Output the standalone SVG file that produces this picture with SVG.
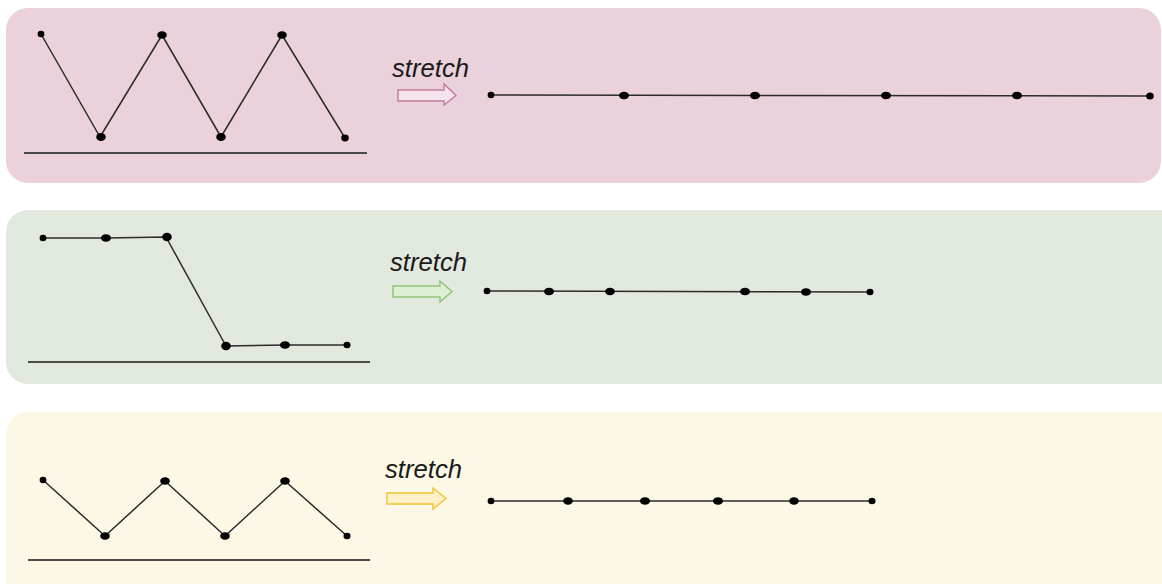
<svg xmlns="http://www.w3.org/2000/svg" width="1162" height="584" viewBox="0 0 1162 584">
  <style>
    .panel-pink { fill: #ead1dc; }
    .panel-green { fill: #e1e8dd; }
    .panel-yellow { fill: #fdf7e5; }
    .wire { fill: none; stroke: #2b2b2b; stroke-width: 1.5; stroke-linejoin: round; }
    .ground { stroke: #4a4a4a; stroke-width: 2.2; }
    .dot { fill: #000; }
    .label { font-family: "Liberation Sans", Arial, sans-serif; font-style: italic; font-size: 25px; fill: #1a1a1a; }
    .arrow-pink { fill: #f4e3ea; stroke: #c27ba0; stroke-width: 1.4; }
    .arrow-green { fill: #dcefd5; stroke: #8fc47a; stroke-width: 1.4; }
    .arrow-yellow { fill: #fff0c9; stroke: #f1c232; stroke-width: 1.4; }
  </style>
  <rect width="1162" height="584" fill="#ffffff"/>

  <!-- Row 1: zigzag -->
  <g id="row-zigzag-tall">
    <rect class="panel-pink" x="6" y="8" width="1155" height="175" rx="22"/>
    <line class="ground" x1="24" y1="153" x2="367" y2="153"/>
    <polyline class="wire" points="41,34 100,137 162,35 221,137 282,35 345,138"/>
    <ellipse class="dot" cx="41" cy="34" rx="3.4" ry="3.2"/>
    <ellipse class="dot" cx="101" cy="137" rx="4.8" ry="4"/>
    <ellipse class="dot" cx="162" cy="35" rx="4.8" ry="3.8"/>
    <ellipse class="dot" cx="221" cy="137" rx="4.8" ry="4"/>
    <ellipse class="dot" cx="282" cy="35" rx="4.8" ry="3.8"/>
    <ellipse class="dot" cx="345" cy="138" rx="3.8" ry="3.4"/>
    <text class="label" x="392" y="77" textLength="77" lengthAdjust="spacingAndGlyphs">stretch</text>
    <polygon class="arrow-pink" points="398,90 444,90 444,84 456,95.5 444,105 444,101 398,101"/>
    <line class="wire" x1="491" y1="95" x2="1150" y2="96"/>
    <ellipse class="dot" cx="491" cy="95" rx="3.4" ry="3.2"/>
    <ellipse class="dot" cx="624" cy="95.5" rx="5" ry="3.8"/>
    <ellipse class="dot" cx="755" cy="95.5" rx="5" ry="3.8"/>
    <ellipse class="dot" cx="886" cy="95.5" rx="5" ry="3.8"/>
    <ellipse class="dot" cx="1017" cy="95.5" rx="5" ry="3.8"/>
    <ellipse class="dot" cx="1150" cy="96" rx="3.8" ry="3.5"/>
  </g>

  <!-- Row 2: step -->
  <g id="row-step">
    <rect class="panel-green" x="6" y="210" width="1180" height="174" rx="22"/>
    <line class="ground" x1="28" y1="362" x2="370" y2="362"/>
    <polyline class="wire" points="43,238 106,238 166,237 226,346 285,345 347,345"/>
    <ellipse class="dot" cx="43" cy="238" rx="3.4" ry="3.2"/>
    <ellipse class="dot" cx="106" cy="238" rx="5" ry="3.8"/>
    <ellipse class="dot" cx="167" cy="237" rx="4.8" ry="4.2"/>
    <ellipse class="dot" cx="226" cy="346" rx="4.8" ry="4.2"/>
    <ellipse class="dot" cx="285" cy="345" rx="5" ry="3.8"/>
    <ellipse class="dot" cx="347" cy="345" rx="3.5" ry="3.2"/>
    <text class="label" x="390" y="271" textLength="77" lengthAdjust="spacingAndGlyphs">stretch</text>
    <polygon class="arrow-green" points="393,286 440,286 440,281 452,291.5 440,302 440,297 393,297"/>
    <line class="wire" x1="487" y1="291" x2="870" y2="292"/>
    <ellipse class="dot" cx="487" cy="291" rx="3.4" ry="3.2"/>
    <ellipse class="dot" cx="549" cy="291.5" rx="5" ry="3.8"/>
    <ellipse class="dot" cx="610" cy="291.5" rx="4.8" ry="3.8"/>
    <ellipse class="dot" cx="745" cy="291.5" rx="5" ry="3.8"/>
    <ellipse class="dot" cx="806" cy="292" rx="5" ry="3.8"/>
    <ellipse class="dot" cx="870" cy="292" rx="3.5" ry="3.2"/>
  </g>

  <!-- Row 3: shallow zigzag -->
  <g id="row-zigzag-low">
    <rect class="panel-yellow" x="6" y="412" width="1180" height="190" rx="22"/>
    <line class="ground" x1="28" y1="560" x2="370" y2="560"/>
    <polyline class="wire" points="43,480 105,536 165,481 225,536 285,481 347,536"/>
    <ellipse class="dot" cx="43" cy="480" rx="3.4" ry="3.2"/>
    <ellipse class="dot" cx="105" cy="536" rx="4.8" ry="3.8"/>
    <ellipse class="dot" cx="165" cy="481" rx="4.8" ry="3.8"/>
    <ellipse class="dot" cx="225" cy="536" rx="4.8" ry="3.8"/>
    <ellipse class="dot" cx="285" cy="481" rx="4.8" ry="3.8"/>
    <ellipse class="dot" cx="347" cy="536" rx="3.5" ry="3.2"/>
    <text class="label" x="385" y="478" textLength="77" lengthAdjust="spacingAndGlyphs">stretch</text>
    <polygon class="arrow-yellow" points="387,493 433,493 433,488 446,498.5 433,509 433,504 387,504"/>
    <line class="wire" x1="491" y1="501" x2="872" y2="501"/>
    <ellipse class="dot" cx="491" cy="501" rx="3.4" ry="3.2"/>
    <ellipse class="dot" cx="568" cy="501" rx="4.8" ry="3.8"/>
    <ellipse class="dot" cx="645" cy="501" rx="5" ry="3.8"/>
    <ellipse class="dot" cx="718" cy="501" rx="5" ry="3.8"/>
    <ellipse class="dot" cx="794" cy="501" rx="4.8" ry="3.8"/>
    <ellipse class="dot" cx="872" cy="501" rx="3.5" ry="3.2"/>
  </g>
</svg>
